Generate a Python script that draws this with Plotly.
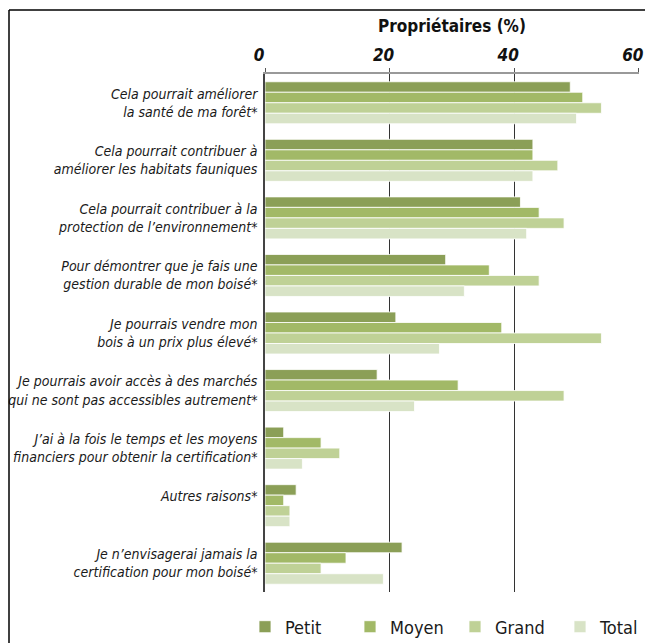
import plotly.graph_objects as go

categories = [
    "Cela pourrait améliorer<br>la santé de ma forêt*",
    "Cela pourrait contribuer à<br>améliorer les habitats fauniques",
    "Cela pourrait contribuer à la<br>protection de l’environnement*",
    "Pour démontrer que je fais une<br>gestion durable de mon boisé*",
    "Je pourrais vendre mon<br>bois à un prix plus élevé*",
    "Je pourrais avoir accès à des marchés<br>qui ne sont pas accessibles autrement*",
    "J’ai à la fois le temps et les moyens<br>financiers pour obtenir la certification*",
    "Autres raisons*<br> ",
    "Je n’envisagerai jamais la<br>certification pour mon boisé*",
]
series_names = ["Petit", "Moyen", "Grand", "Total"]
petit = [49, 43, 41, 29, 21, 18, 3, 5, 22]
moyen = [51, 43, 44, 36, 38, 31, 9, 3, 13]
grand = [54, 47, 48, 44, 54, 48, 12, 4, 9]
total = [50, 43, 42, 32, 28, 24, 6, 4, 19]
x_ticks = [0, 20, 40, 60]
x_title = "Propriétaires (%)"

colors = ["#8B9F57", "#A2B967", "#BFD196", "#D8E3C6"]
FONT = "DejaVu Sans Condensed, Liberation Sans Narrow, sans-serif"

W, H = 645, 643
ML, MR, MT, MB = 265, 6, 74, 51
PW, PH = W - ML - MR, H - MT - MB

positions = list(range(len(categories)))

fig = go.Figure()
for name, vals, col in zip(series_names, [petit, moyen, grand, total], colors):
    fig.add_trace(go.Bar(
        y=positions, x=vals, name=name, orientation="h",
        marker=dict(color=col, line=dict(color="rgba(255,255,255,0.8)", width=1)),
    ))

def px_x(p):
    return (p - ML) / PW

def px_y(p):
    return (H - MB - p) / PH

shapes = [
    dict(type="line", xref="paper", yref="paper", x0=px_x(9), x1=px_x(650), y0=px_y(10), y1=px_y(10),
         line=dict(color="black", width=1.5)),
    dict(type="line", xref="paper", yref="paper", x0=px_x(9), x1=px_x(9), y0=px_y(10), y1=px_y(650),
         line=dict(color="black", width=1.5)),
]

fig.update_layout(
    width=W, height=H,
    margin=dict(l=ML, r=MR, t=MT, b=MB, pad=0, autoexpand=False),
    paper_bgcolor="white", plot_bgcolor="white",
    barmode="group", bargap=0.27, bargroupgap=0,
    font=dict(family=FONT, color="#1a1a1a", size=14),
    shapes=shapes,
    showlegend=True,
    legend=dict(orientation="h", x=px_x(245), y=px_y(627), xanchor="left", yanchor="middle",
                font=dict(size=18, family=FONT), itemwidth=30, traceorder="normal",
                entrywidth=60, entrywidthmode="pixels",
                bgcolor="rgba(0,0,0,0)"),
    xaxis=dict(
        side="top", range=[0, 60.03], tickvals=x_ticks, ticktext=[str(t) for t in x_ticks],
        tickfont=dict(size=17, family=FONT, weight="bold", style="italic", color="#111"),
        ticklabeloverflow="allow", ticklabelshift=-6,
        showline=True, linecolor="#999", linewidth=2, automargin=False,
        ticks="outside", ticklen=4, tickcolor="#555", tickwidth=1,
        showgrid=True, gridcolor="#333", gridwidth=1, zeroline=False,
        title=dict(text=x_title, font=dict(size=17, family=FONT, weight="bold", color="#111"), standoff=8),
    ),
    yaxis=dict(
        range=[8.5, -0.5], tickvals=positions, ticktext=categories, automargin=False,
        tickfont=dict(size=14, family=FONT, style="italic", color="#1a1a1a"),
        showline=True, linecolor="#444", linewidth=1.5, ticks="", showgrid=False, zeroline=False,
        ticklabelstandoff=3,
    ),
    yaxis2=dict(
        overlaying="y", range=[8.5, -0.5], tickvals=[p - 0.5 for p in positions] + [len(positions) - 0.5],
        showticklabels=False, ticks="outside", ticklen=6, tickcolor="#444", tickwidth=1.5, automargin=False,
        showline=False, showgrid=False, zeroline=False, side="left",
    ),
)

fig.write_html(
    "out.html",
    config={"displayModeBar": False},
    post_script="document.body.style.margin='0';document.body.style.overflow='hidden';",
)
